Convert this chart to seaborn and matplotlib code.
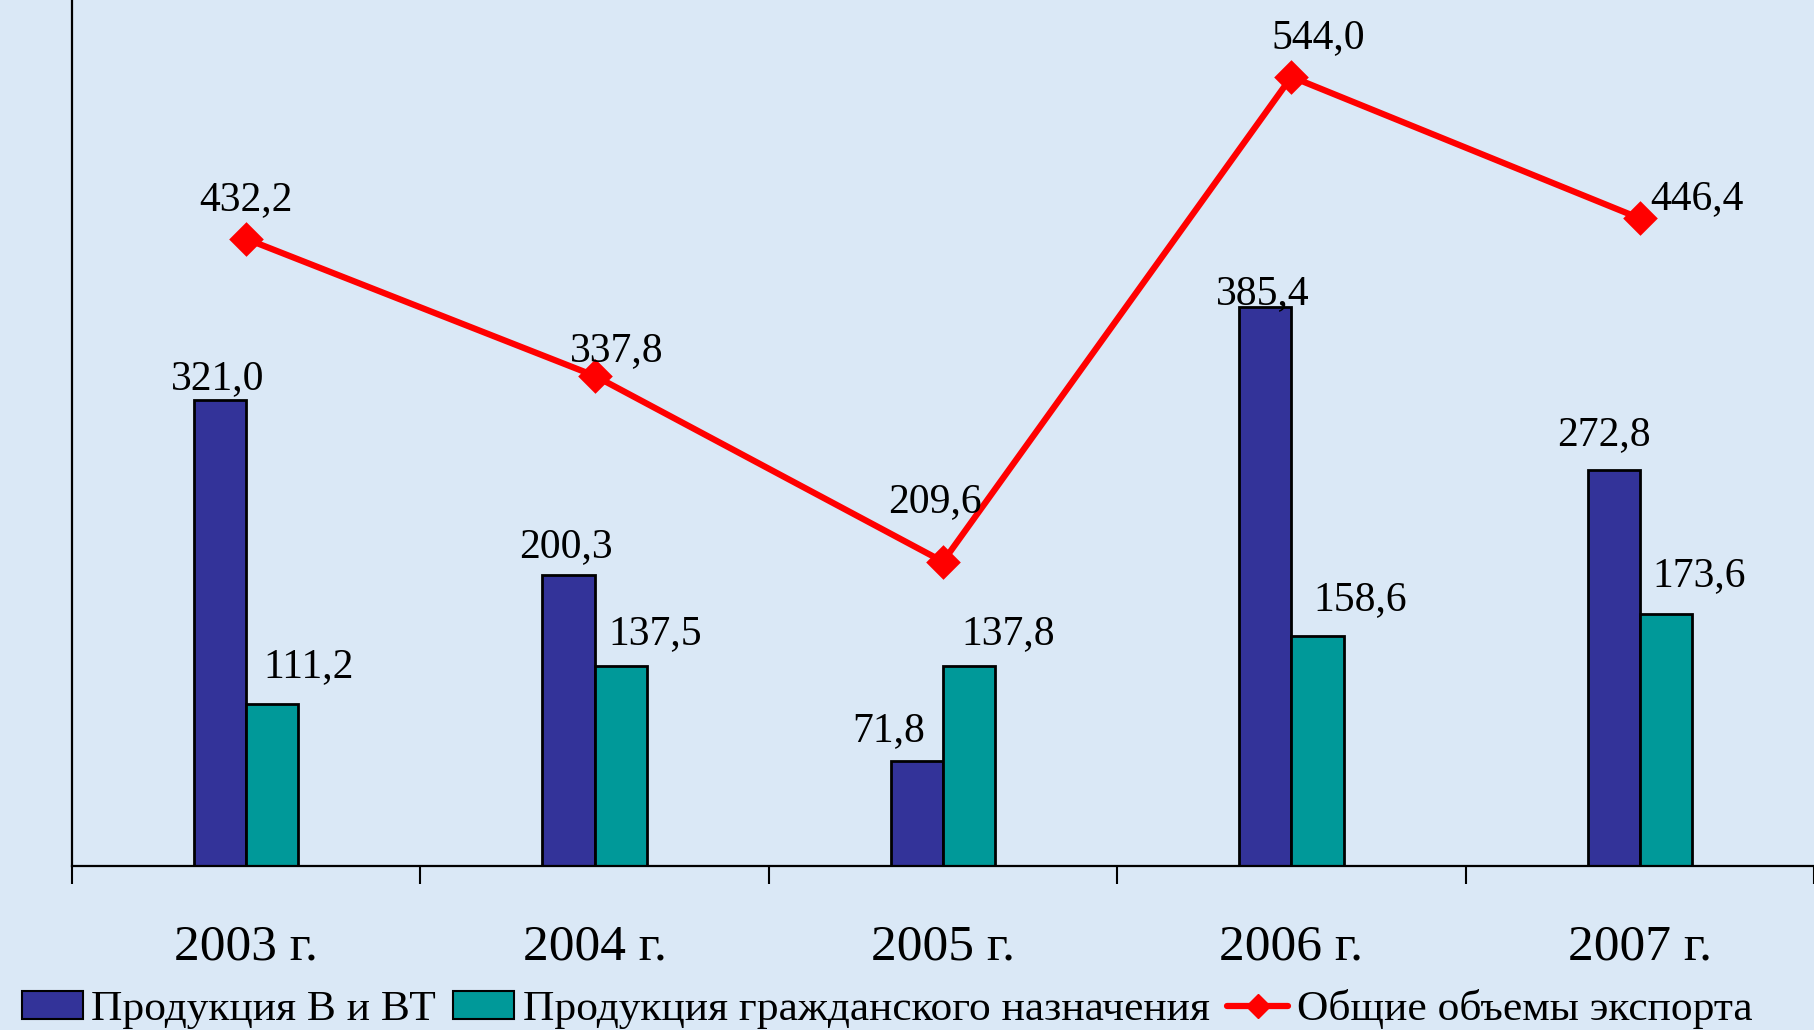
import numpy as np
import pandas as pd
import seaborn as sns
import matplotlib.pyplot as plt
from matplotlib.patches import Patch
from matplotlib.lines import Line2D

# data
years = ['2003 г.', '2004 г.', '2005 г.', '2006 г.', '2007 г.']
military = [321.0, 200.3, 71.8, 385.4, 272.8]
civil = [111.2, 137.5, 137.8, 158.6, 173.6]
total = [432.2, 337.8, 209.6, 544.0, 446.4]
series_names = ['Продукция В и ВТ', 'Продукция гражданского назначения', 'Общие объемы экспорта']

# label offsets (points) relative to bar top / marker
military_offsets = [(-2, 15), (-2, 20), (-20, 22), (-2, 9), (-7, 25)]
civil_offsets = [(26, 27), (25, 23), (28, 23), (31, 26), (24, 27)]
total_offsets = [(0, 28), (16, 18), (-6, 43), (19, 28), (41, 14)]

blue = '#333399'
teal = '#009999'
red = '#FF0000'
bg = '#DAE8F6'

sns.set_theme(style='white')
plt.rcParams['font.family'] = ['Liberation Serif', 'DejaVu Serif']
plt.rcParams['text.color'] = 'black'
plt.rcParams['xtick.color'] = 'black'
plt.rcParams['xtick.labelcolor'] = 'black'

df = pd.DataFrame({
    'year': years * 2,
    'value': military + civil,
    'series': [series_names[0]] * 5 + [series_names[1]] * 5,
})

fig = plt.figure(figsize=(18.14, 10.30), dpi=100, facecolor=bg)
ax = fig.add_axes([72 / 1814, 1 - 865.5 / 1030, 1 - 72 / 1814, 865.5 / 1030])
ax.set_facecolor('none')

sns.barplot(data=df, x='year', y='value', hue='series', palette=[blue, teal], saturation=1,
            width=0.3, edgecolor='black', linewidth=2, legend=False, ax=ax)
sns.pointplot(x=years, y=total, color=red, markers='D', markersize=14,
              linewidth=4.5, errorbar=None, ax=ax)

# value labels
for bar, val, off in zip(ax.containers[0], military, military_offsets):
    ax.annotate(f'{val:.1f}'.replace('.', ','), (bar.get_x() + bar.get_width() / 2, bar.get_height()),
                xytext=off, textcoords='offset points', ha='center', va='center', fontsize=30)
for bar, val, off in zip(ax.containers[1], civil, civil_offsets):
    ax.annotate(f'{val:.1f}'.replace('.', ','), (bar.get_x() + bar.get_width() / 2, bar.get_height()),
                xytext=off, textcoords='offset points', ha='center', va='center', fontsize=30)
for i, (val, off) in enumerate(zip(total, total_offsets)):
    ax.annotate(f'{val:.1f}'.replace('.', ','), (i, val),
                xytext=off, textcoords='offset points', ha='center', va='center', fontsize=30)

ax.set_xlim(-0.5, 4.5)
ax.set_ylim(0, 597)
ax.set_xlabel('')
ax.set_ylabel('')
ax.set_yticks([])
ax.set_xticks(range(len(years)))
ax.set_xticklabels(years, fontsize=37)
ax.set_xticks(np.arange(-0.5, 5, 1), minor=True)
ax.tick_params(axis='x', which='major', bottom=True, length=0, pad=42)
ax.tick_params(axis='x', which='minor', bottom=True, length=13, width=1.5, direction='out', color='black')
for s in ['top', 'right']:
    ax.spines[s].set_visible(False)
for s in ['left', 'bottom']:
    ax.spines[s].set_color('black')
    ax.spines[s].set_linewidth(1.6)

handles = [Patch(facecolor=blue, edgecolor='black', linewidth=1.5),
           Patch(facecolor=teal, edgecolor='black', linewidth=1.5),
           Line2D([], [], color=red, linewidth=4.5, marker='D', markersize=12)]
fig.legend(handles, series_names, loc='center', bbox_to_anchor=(0.489, 0.02),
           ncol=3, frameon=False, fontsize=31.3, handlelength=1.4, handleheight=0.6,
           handletextpad=0.2, columnspacing=0.4, borderpad=0)

fig.savefig('out.png', dpi=100, facecolor=bg)
